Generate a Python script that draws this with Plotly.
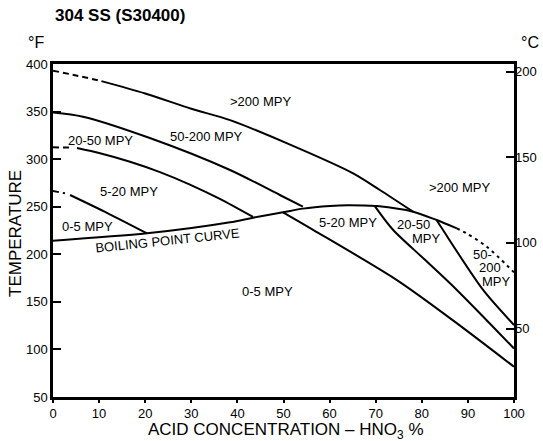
import plotly.graph_objects as go

# ---- axis ticks ----
acid_ticks = list(range(0, 101, 10))
temp_f_ticks = [50, 100, 150, 200, 250, 300, 350, 400]
temp_c_ticks = [50, 100, 150, 200]

# ---- iso-corrosion curves (acid %, deg F) ----
top_dash_x = [0, 5, 10.5]
top_dash_y = [393, 388, 382]
top_x = [10.5, 20, 30, 38.4, 50.8, 65.1, 70.9, 78.1]
top_y = [382, 369, 353, 341, 316.6, 285.1, 267.6, 244.8]

c50_x = [0, 6.5, 21, 38.4, 49.2, 54.2]
c50_y = [349, 344.6, 322.2, 288.6, 262.3, 250]

c20_dash_x = [0, 4.3]
c20_dash_y = [312.4, 312.2]
c20_x = [5.2, 10.2, 16.7, 23.2, 29.7, 36.2, 43.4]
c20_y = [311.7, 306.2, 297.3, 286.4, 273.3, 258.2, 239.2]

c5_dash_x = [0, 2.6]
c5_dash_y = [266.5, 264.1]
c5_x = [3.7, 11.9, 20.4]
c5_y = [262.3, 243.1, 222.0]

boil_x = [0, 20.4, 38.4, 43.4, 49.9, 54.2, 60.1, 64, 68.8, 70.3, 78.1, 83.2, 87.6]
boil_y = [214.3, 222, 233.6, 238.5, 244.1, 248, 250.8, 251.6, 251.1, 250.7, 244.8, 236, 227.3]
boil_dot_x = [87.6, 89.7, 94.1, 100]
boil_dot_y = [227.3, 222, 208, 181]

lineA_x = [49.9, 56.5, 74.6, 87.2, 100]
lineA_y = [244.1, 225.5, 172.9, 129, 81.8]
lineB_x = [69.8, 73.8, 80.5, 87.6, 100]
lineB_y = [250.7, 225.5, 195, 162.5, 101]
lineC_x = [83.2, 84.6, 93.3, 100]
lineC_y = [236, 225.5, 162.5, 125.7]

# ---- labels (acid %, deg F) ----
label_text = [">200 MPY", "50-200 MPY", "20-50 MPY", "5-20 MPY", "0-5 MPY",
              "0-5 MPY", "5-20 MPY", "20-50", "MPY", ">200 MPY",
              "50-", "200", "MPY"]
label_x = [45.1, 33.2, 10.4, 16.5, 7.4, 46.6, 64.0, 78.1, 81.1, 88.1, 93.1, 94.8, 96.1]
label_y = [361.1, 324.3, 320.1, 266.5, 229.7, 161.4, 232.9, 230.8, 217.1, 269.7, 200.3, 186.6, 171.9]

FONT = "Liberation Sans, Arial, Helvetica, sans-serif"

fig = go.Figure()

curves = [
    (top_dash_x, top_dash_y, "6px,4px"),
    (top_x, top_y, "solid"),
    (c50_x, c50_y, "solid"),
    (c20_dash_x, c20_dash_y, "6px,4px"),
    (c20_x, c20_y, "solid"),
    (c5_dash_x, c5_dash_y, "6px,4px"),
    (c5_x, c5_y, "solid"),
    (boil_x, boil_y, "solid"),
    (boil_dot_x, boil_dot_y, "3px,4px"),
    (lineA_x, lineA_y, "solid"),
    (lineB_x, lineB_y, "solid"),
    (lineC_x, lineC_y, "solid"),
]
for cx, cy, dash in curves:
    fig.add_trace(go.Scatter(x=cx, y=cy, mode="lines",
                             line=dict(color="black", width=2, dash=dash, shape="spline", smoothing=0.8),
                             hoverinfo="skip", showlegend=False))

# invisible trace on the Celsius axis so it is drawn
fig.add_trace(go.Scatter(x=[0], y=[100], yaxis="y2", mode="markers",
                         marker=dict(opacity=0), hoverinfo="skip", showlegend=False))

annotations = []
for t, lx, ly in zip(label_text, label_x, label_y):
    annotations.append(dict(x=lx, y=ly, xref="x", yref="y", text=t, showarrow=False,
                            font=dict(family=FONT, size=13, color="black"),
                            xanchor="center", yanchor="middle"))
annotations.append(dict(x=24.9, y=215.0, xref="x", yref="y", text="BOILING POINT CURVE",
                        showarrow=False, textangle=-6, xanchor="center", yanchor="middle",
                        font=dict(family=FONT, size=13, color="black")))

W, H = 543, 441
L, R, T, B = 53, 29, 64, 44
pw, ph = W - L - R, H - T - B

def px_x(px):
    return (px - L) / pw

def px_y(py):
    return (H - B - py) / ph

annotations += [
    dict(x=px_x(36), y=px_y(43), xref="paper", yref="paper", text="°F", showarrow=False,
         xanchor="center", yanchor="middle", font=dict(family=FONT, size=16, color="black")),
    dict(x=px_x(530), y=px_y(43), xref="paper", yref="paper", text="°C", showarrow=False,
         xanchor="center", yanchor="middle", font=dict(family=FONT, size=16, color="black")),
    dict(x=px_x(15), y=px_y(234), xref="paper", yref="paper", text="TEMPERATURE",
         textangle=-90, showarrow=False, xanchor="center", yanchor="middle",
         font=dict(family=FONT, size=17, color="black")),
    dict(x=px_x(286), y=px_y(431), xref="paper", yref="paper",
         text="ACID CONCENTRATION – HNO<sub>3</sub> %", showarrow=False,
         xanchor="center", yanchor="middle",
         font=dict(family=FONT, size=17, color="black")),
]

fig.update_layout(
    width=W, height=H,
    margin=dict(l=L, r=R, t=T, b=B, autoexpand=False),
    paper_bgcolor="white", plot_bgcolor="white",
    font=dict(family=FONT, size=13, color="black"),
    title=dict(text="<b>304 SS (S30400)</b>", x=55 / W, xanchor="left", xref="container",
               y=1 - 15 / H, yanchor="middle", yref="container",
               font=dict(family=FONT, size=17, color="black")),
    xaxis=dict(range=[0, 100], tickvals=acid_ticks, ticks="outside", ticklen=3, tickwidth=2,
               tickcolor="black", showline=True, linewidth=2.5, linecolor="black", mirror=True,
               showgrid=False, zeroline=False, tickfont=dict(size=13)),
    yaxis=dict(range=[50, 400], tickvals=temp_f_ticks, ticks="inside", ticklen=8, tickwidth=2,
               tickcolor="black", showline=True, linewidth=2.5, linecolor="black", mirror=True,
               showgrid=False, zeroline=False, tickfont=dict(size=13)),
    yaxis2=dict(range=[(50 - 32) / 1.8, (400 - 32) / 1.8], tickvals=temp_c_ticks,
                overlaying="y", side="right", ticks="inside", ticklen=8, tickwidth=2,
                tickcolor="black", showline=False, showgrid=False, zeroline=False,
                tickfont=dict(size=13)),
    annotations=annotations,
    hovermode=False,
)

fig.write_html("out.html", config={"displayModeBar": False},
               post_script="document.body.style.margin='0';document.body.style.overflow='hidden';")
